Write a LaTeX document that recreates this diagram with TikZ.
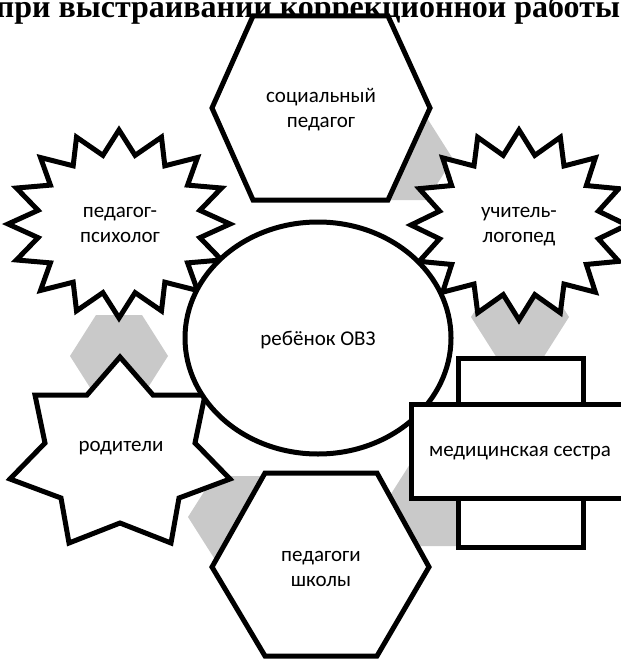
\documentclass[tikz,border=0pt]{standalone}
\usepackage{fontspec}
\setmainfont{Carlito}
\newfontfamily\titlefont{Liberation Serif}
\definecolor{gcol}{RGB}{201,201,201}
\begin{document}
\begin{tikzpicture}[x=1bp,y=-1bp,line join=miter,
  outline/.style={draw=black,line width=5bp,fill=white,miter limit=10},
  lbl/.style={font=\fontsize{21bp}{25bp}\selectfont,align=center,inner sep=0pt},
  ghex/.pic={\fill[gcol] (-49,0) -- (-23,-41) -- (23,-41) -- (49,0) -- (23,41) -- (-23,41) -- cycle;}]
\useasboundingbox (0,0) rectangle (621,659);
\clip (0,0) rectangle (621,659);
% title
\node[font=\titlefont\bfseries\fontsize{32bp}{32bp}\selectfont,anchor=base,inner sep=0pt] (title) at (308,18) {при выстраивании коррекционной работы};
% gray connectors
\pic at (404,159) {ghex};
\pic at (119,356) {ghex};
\pic at (520,317) {ghex};
\pic at (433,505) {ghex};
\pic at (237,517) {ghex};
% top hexagon
\filldraw[outline] (253,16) -- (388,16) -- (430,108) -- (388,200) -- (253,200) -- (212,108) -- cycle;
\node[lbl] (soc) at (321,110) {социальный\\педагог};
% bottom hexagon
\filldraw[outline] (265,473) -- (377,473) -- (429,567) -- (377,656) -- (265,656) -- (212,567) -- cycle;
\node[lbl] (school) at (321,569) {педагоги\\школы};
% left star
\begin{scope}[shift={(119,224)}]
\filldraw[outline] (0:111 and 94) \foreach \i in {0,...,14} { -- (\i*22.5+11.25:82.5 and 70) -- (\i*22.5+22.5:111 and 94) } -- (348.75:82.5 and 70) -- cycle;
\end{scope}
\node[lbl] (psy) at (120,225) {педагог-\\психолог};
% right star
\begin{scope}[shift={(519,225)}]
\filldraw[outline] (0:108 and 95) \foreach \i in {0,...,14} { -- (\i*22.5+11.25:81 and 71) -- (\i*22.5+22.5:108 and 95) } -- (348.75:81 and 71) -- cycle;
\end{scope}
\node[lbl] (logo) at (519,227) {учитель-\\логопед};
% parents star (heptagram)
\filldraw[outline] (120,357) -- (153,395) -- (205,395) -- (195,443) -- (230,479) -- (179,498) -- (171,543) -- (120,523) -- (69,543) -- (61,498) -- (10,479) -- (45,443) -- (35,395) -- (87,395) -- cycle;
\node[lbl] (par) at (121,448) {родители};
% central ellipse
\filldraw[outline] (318,338) ellipse [x radius=133,y radius=116];
\node[lbl] (child) at (318,340) {ребёнок ОВЗ};
% nurse
\filldraw[outline] (458,358) rectangle (583,547);
\filldraw[outline] (411,404) rectangle (630,498);
\node[lbl] (nurse) at (520,453) {медицинская сестра};
\end{tikzpicture}
\end{document}
